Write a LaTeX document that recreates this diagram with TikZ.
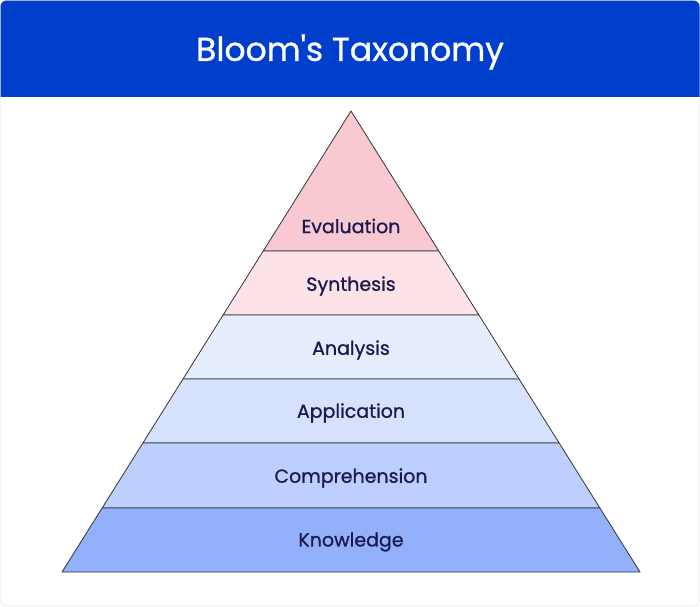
\documentclass[tikz,border=0pt]{standalone}
\usepackage{fontspec}
\setmainfont{Poppins}
\newfontfamily\medfont{Poppins}[FakeBold=0.9]
\usetikzlibrary{calc,positioning}
\definecolor{hdrblue}{HTML}{003FCC}
\definecolor{framegray}{HTML}{DDDDDD}
\definecolor{txtnavy}{HTML}{1B1A4F}
\definecolor{evalpink}{HTML}{F9C9D2}
\definecolor{synpink}{HTML}{FDE3E8}
\definecolor{anablue}{HTML}{E6EDFD}
\definecolor{appblue}{HTML}{D5E1FD}
\definecolor{compblue}{HTML}{BDCFFD}
\definecolor{knowblue}{HTML}{93B0FB}

\begin{document}
\begin{tikzpicture}
[x=1pt,y=-1pt,
 band/.style={draw=black!80,line width=0.8pt,line join=round},
 lbl/.style={text=txtnavy,font=\medfont\fontsize{19}{22}\selectfont}]
\useasboundingbox (0,0) rectangle (700,606);
% frame and header
\draw[framegray,fill=white,rounded corners=6pt] (0.5,0.5) rectangle (699.5,605.5);
\begin{scope}
\clip[rounded corners=6pt] (0.5,0.5) rectangle (699.5,605.5);
\fill[hdrblue] (0,0) rectangle (700,97);
\end{scope}
\node[text=white,font=\medfont\fontsize{33}{38}\selectfont] (title) at (350,52) {Bloom{\char"27}s Taxonomy};
% pyramid
\coordinate (apex) at (351,111);
\coordinate (bl) at (62,572);
\coordinate (br) at (640,572);
\coordinate (l1) at ($(apex)!0.3037!(bl)$);
\coordinate (r1) at ($(apex)!0.3037!(br)$);
\coordinate (l2) at ($(apex)!0.4425!(bl)$);
\coordinate (r2) at ($(apex)!0.4425!(br)$);
\coordinate (l3) at ($(apex)!0.5813!(bl)$);
\coordinate (r3) at ($(apex)!0.5813!(br)$);
\coordinate (l4) at ($(apex)!0.7202!(bl)$);
\coordinate (r4) at ($(apex)!0.7202!(br)$);
\coordinate (l5) at ($(apex)!0.8612!(bl)$);
\coordinate (r5) at ($(apex)!0.8612!(br)$);
\filldraw[band,fill=evalpink] (apex) -- (r1) -- (l1) -- cycle;
\filldraw[band,fill=synpink] (l1) -- (r1) -- (r2) -- (l2) -- cycle;
\filldraw[band,fill=anablue] (l2) -- (r2) -- (r3) -- (l3) -- cycle;
\filldraw[band,fill=appblue] (l3) -- (r3) -- (r4) -- (l4) -- cycle;
\filldraw[band,fill=compblue] (l4) -- (r4) -- (r5) -- (l5) -- cycle;
\filldraw[band,fill=knowblue] (l5) -- (r5) -- (br) -- (bl) -- cycle;
% labels
\node[lbl] (eval) at (351,226) {Evaluation};
\node[lbl] (syn) at (351,286) {Synthesis};
\node[lbl] (ana) at (351,350) {Analysis};
\node[lbl] (app) at (351,413) {Application};
\node[lbl] (comp) at (351,478) {Comprehension};
\node[lbl] (know) at (351,542) {Knowledge};
\end{tikzpicture}
\end{document}
